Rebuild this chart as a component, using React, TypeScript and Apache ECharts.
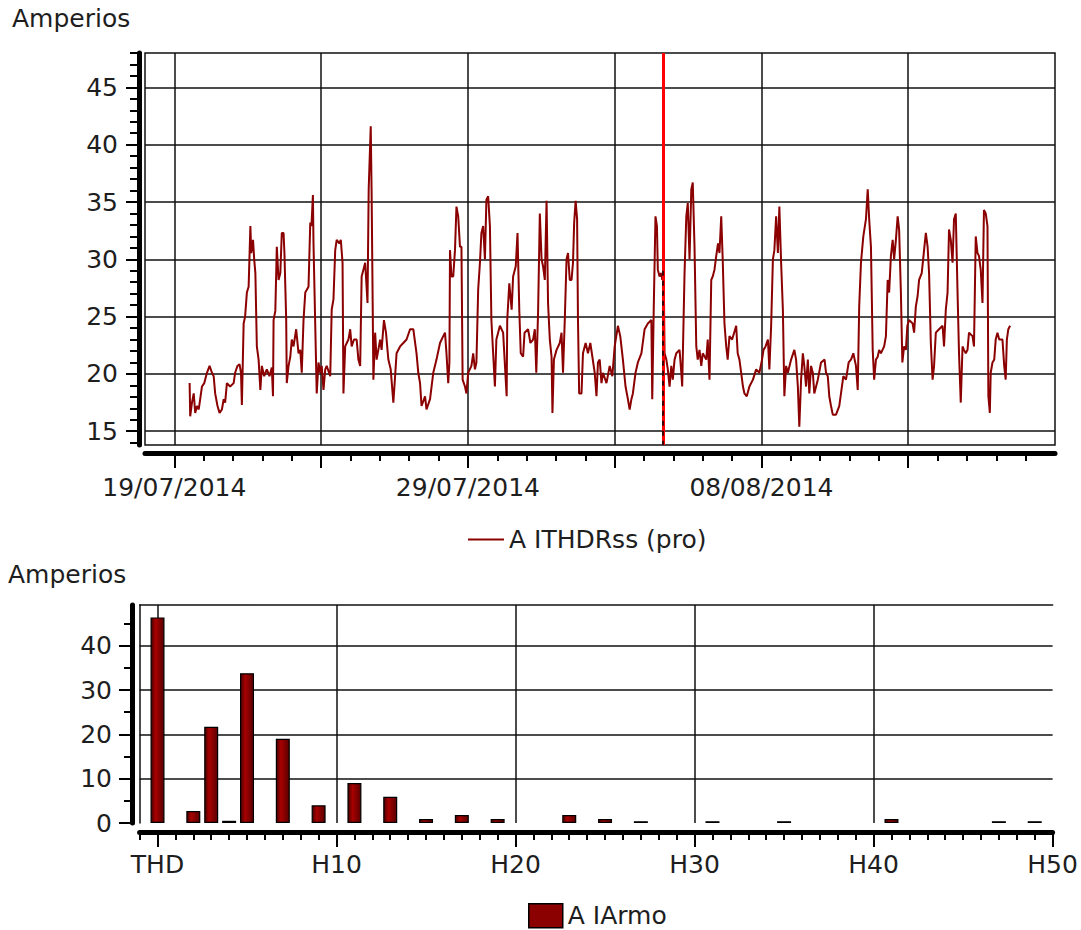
import React, { useEffect, useRef } from "react";
import * as echarts from "echarts";

const FONT = "'DejaVu Sans', 'Noto Sans', sans-serif";
const TEXT_COLOR = "#1e1e1e";
const GRID_COLOR = "#111111";

// ---------- top chart: current over time ----------
const topSeriesName = "A ITHDRss (pro)";
// days since 19/07/2014 00:00
const sampleDays = [
  0.52, 0.54, 0.6, 0.66, 0.71, 0.77, 0.83, 0.88, 0.94, 1.02, 1.11, 1.2, 1.28, 1.34, 1.39, 1.47, 1.54, 1.62, 1.68, 1.73,
  1.79, 1.9, 2.02, 2.07, 2.15, 2.22, 2.27, 2.3, 2.36, 2.41, 2.47, 2.53, 2.59, 2.62, 2.68, 2.72, 2.76, 2.81, 2.87, 2.93,
  2.98, 3.06, 3.15, 3.24, 3.32, 3.36, 3.38, 3.44, 3.49, 3.55, 3.61, 3.66, 3.72, 3.75, 3.81, 3.83, 3.89, 3.95, 4.0, 4.06,
  4.15, 4.23, 4.29, 4.34, 4.4, 4.46, 4.57, 4.63, 4.67, 4.72, 4.74, 4.8, 4.85, 4.91, 4.97, 5.02, 5.08, 5.14, 5.19, 5.31,
  5.36, 5.42, 5.48, 5.53, 5.62, 5.67, 5.73, 5.76, 5.82, 5.93, 5.99, 6.04, 6.12, 6.21, 6.27, 6.33, 6.38, 6.44, 6.5, 6.58,
  6.62, 6.69, 6.72, 6.76, 6.78, 6.84, 6.89, 7.01, 7.06, 7.14, 7.21, 7.29, 7.37, 7.46, 7.52, 7.57, 7.69, 7.8, 7.91, 8.03,
  8.14, 8.25, 8.31, 8.37, 8.42, 8.54, 8.59, 8.71, 8.82, 8.93, 9.05, 9.16, 9.22, 9.27, 9.33, 9.37, 9.39, 9.44, 9.5, 9.56,
  9.61, 9.67, 9.73, 9.78, 9.82, 9.9, 9.95, 10.01, 10.12, 10.18, 10.24, 10.29, 10.35, 10.41, 10.46, 10.52, 10.58, 10.63, 10.69, 10.75,
  10.8, 10.86, 10.92, 10.97, 11.09, 11.2, 11.32, 11.34, 11.41, 11.49, 11.54, 11.63, 11.69, 11.75, 11.8, 11.88, 11.93, 12.05, 12.13, 12.22,
  12.28, 12.33, 12.39, 12.45, 12.51, 12.56, 12.62, 12.68, 12.73, 12.79, 12.85, 12.88, 12.93, 13.02, 13.13, 13.19, 13.24, 13.3, 13.36, 13.41,
  13.47, 13.53, 13.58, 13.62, 13.67, 13.72, 13.75, 13.79, 13.87, 13.92, 14.01, 14.09, 14.17, 14.24, 14.32, 14.38, 14.43, 14.49, 14.55, 14.6,
  14.72, 14.83, 14.92, 15.0, 15.11, 15.19, 15.28, 15.37, 15.45, 15.51, 15.57, 15.62, 15.71, 15.79,
  15.91, 16.02, 16.13, 16.25, 16.28, 16.33, 16.39, 16.44, 16.47, 16.53, 16.59, 16.62, 16.67, 16.7, 16.76, 16.81, 16.87, 16.93, 16.98, 17.04,
  17.1, 17.21, 17.27, 17.3, 17.38, 17.44, 17.49, 17.55, 17.61, 17.66, 17.72, 17.78, 17.83, 17.89, 17.95, 18.0, 18.12, 18.17, 18.23, 18.29,
  18.34, 18.4, 18.46, 18.52, 18.57, 18.63, 18.68, 18.74, 18.8, 18.85, 18.91, 19.0, 19.07, 19.14, 19.19, 19.25, 19.31, 19.37, 19.42, 19.5,
  19.59, 19.71, 19.82, 19.93, 20.02, 20.07, 20.14, 20.22, 20.27, 20.33, 20.39, 20.44, 20.5, 20.56, 20.61, 20.67, 20.73, 20.78, 20.84, 20.9,
  21.01, 21.12, 21.18, 21.24, 21.29, 21.35, 21.41, 21.46, 21.52, 21.58, 21.63, 21.69, 21.75, 21.8, 21.92, 22.03, 22.15, 22.2, 22.26, 22.31,
  22.37, 22.43, 22.54, 22.65, 22.71, 22.79, 22.88, 22.97, 23.05, 23.13, 23.22, 23.28,
  23.33, 23.39, 23.47, 23.56, 23.62, 23.67, 23.73, 23.79, 23.84, 23.9, 23.96, 24.01, 24.07, 24.18, 24.24, 24.3, 24.35, 24.41, 24.47, 24.52,
  24.58, 24.64, 24.69, 24.75, 24.8, 24.86, 24.92, 24.97, 25.03, 25.15, 25.2, 25.26, 25.32, 25.37, 25.46, 25.54, 25.6, 25.66, 25.71, 25.77,
  25.83, 25.88, 25.94, 26.05, 26.17, 26.22, 26.28, 26.34, 26.39, 26.45, 26.51, 26.56, 26.62, 26.68, 26.73, 26.79, 26.85, 26.9, 26.96, 27.02,
  27.07, 27.19, 27.24, 27.3, 27.36, 27.41, 27.47, 27.53, 27.58, 27.64, 27.7, 27.73, 27.78, 27.81, 27.87, 27.93, 27.98, 28.04, 28.1, 28.21,
  28.27, 28.32, 28.36, 28.41, 28.47,
];
const sampleAmps = [
  19.2, 16.3, 17.5, 18.3, 16.6, 17.2, 16.9, 17.8, 18.9, 19.2, 20.1, 20.7, 20.1, 19.8, 18.3, 17.2, 16.6, 16.9, 17.8, 17.5,
  19.2, 18.9, 19.2, 20.1, 20.7, 20.85, 20.1, 17.3, 24.4, 25.0, 27.1, 27.6, 32.9, 30.55, 31.7, 30.0, 28.8, 22.4, 21.25, 18.6,
  20.7, 19.8, 20.4, 19.8, 20.55, 18.05, 24.7, 25.5, 31.1, 28.2, 28.8, 32.3, 32.3, 30.55, 24.7, 19.2, 20.7, 21.5, 23.0, 22.4,
  23.9, 21.8, 22.1, 20.1, 24.7, 27.1, 27.6, 33.2, 32.9, 35.6, 31.4, 24.2, 18.3, 21.0, 20.1, 20.7, 18.6, 20.4, 20.7, 19.8,
  25.6, 26.5, 30.8, 31.7, 31.4, 31.7, 29.7, 18.3, 22.4, 23.0, 23.9, 22.4, 23.0, 23.0, 21.25, 20.7, 28.5, 29.1, 29.7, 26.2,
  36.1, 41.6, 35.8, 25.0, 19.5, 23.6, 21.25, 23.0, 22.1, 24.7, 23.6, 21.25, 20.4, 17.5, 19.8, 21.8, 22.4, 22.7, 23.0, 23.9,
  23.9, 21.8, 20.1, 19.2, 17.2, 18.05, 16.9, 17.8, 20.1, 21.25, 22.7, 23.3, 23.6, 21.8, 19.2, 21.0, 30.8, 28.5, 28.5, 30.8,
  34.6, 33.75, 31.1, 31.1, 19.5, 18.9, 18.3, 20.1, 20.7, 21.8, 20.4, 21.0, 27.35, 29.7, 32.3, 32.9, 30.0, 35.2, 35.5, 32.9,
  24.7, 21.8, 18.9, 23.0, 24.2, 23.6, 18.05, 24.7, 27.9, 25.6, 28.5, 29.4, 32.3, 25.6, 21.8, 21.5, 23.6, 23.9, 22.7, 23.0,
  23.9, 20.1, 25.3, 34.0, 30.0, 29.4, 28.2, 35.1, 26.2, 23.0, 21.5, 16.6, 21.25, 22.1, 22.7, 23.6, 20.1, 24.7, 30.0, 30.55,
  28.2, 28.2, 29.7, 33.2, 35.1, 33.5, 24.7, 18.3, 18.3, 21.8, 22.7, 21.8, 22.7, 21.5, 20.1, 18.05, 21.0, 21.25, 19.2, 20.1,
  19.2, 20.7, 19.8, 22.4, 24.2, 23.3, 21.25, 18.9, 17.8, 16.9, 17.8, 18.3, 20.1, 21.0,
  21.8, 23.9, 24.4, 24.7, 17.8, 25.6, 33.75, 32.9, 29.1, 28.5, 28.8, 28.2, 28.8, 21.8, 21.25, 20.4, 18.9, 20.7, 19.5, 21.25,
  21.8, 22.1, 20.1, 18.9, 28.8, 33.75, 34.9, 30.0, 36.1, 36.7, 31.1, 22.4, 21.25, 22.1, 20.7, 21.8, 21.25, 23.0, 19.5, 28.2,
  28.5, 29.1, 30.3, 31.4, 30.55, 33.75, 30.0, 24.4, 22.4, 21.25, 23.3, 23.0, 23.6, 24.2, 21.8, 21.25, 20.1, 18.9, 18.3, 18.05,
  18.9, 19.5, 20.4, 20.1, 21.25, 22.1, 22.4, 23.0, 20.4, 24.2, 30.0, 30.8, 33.75, 30.55, 34.6, 29.7, 25.6, 18.05, 20.7, 20.1,
  21.25, 22.1, 21.25, 18.9, 15.4, 19.5, 21.8, 20.7, 18.9, 21.25, 18.3, 20.7, 20.1, 18.3, 19.5, 21.0, 21.25, 20.1, 19.8, 18.05,
  17.2, 16.45, 16.45, 17.2, 18.3, 19.8, 19.5, 21.0, 21.25, 21.8, 20.7, 18.6,
  25.9, 29.7, 32.0, 33.5, 36.1, 33.5, 31.1, 22.1, 19.5, 21.25, 21.5, 22.1, 21.8, 22.4, 23.3, 28.2, 27.1, 30.3, 31.7, 30.0,
  31.7, 33.75, 32.6, 27.1, 21.0, 22.4, 22.1, 24.2, 24.7, 24.4, 23.6, 25.9, 26.8, 28.2, 28.8, 30.8, 32.3, 31.1, 28.8, 22.7,
  19.5, 20.7, 23.6, 23.9, 24.2, 22.4, 25.6, 27.1, 32.6, 31.7, 29.7, 33.5, 34.0, 27.1, 21.8, 17.5, 22.4, 22.1, 21.8, 22.1,
  23.6, 23.3, 22.4, 32.0, 30.55, 30.3, 29.1, 26.2, 34.3, 34.0, 32.9, 18.05, 16.6, 20.1, 21.0, 21.25, 23.0, 23.6, 23.0, 23.0,
  20.7, 19.5, 23.0, 23.9, 24.2,
];
const dateTickDays = [0, 10, 20];
const dateTickLabels = ["19/07/2014", "29/07/2014", "08/08/2014"];
const cursorDay = 16.64;
const topValueTicks = [15, 20, 25, 30, 35, 40, 45];

// ---------- bottom chart: harmonic spectrum ----------
const bottomSeriesName = "A IArmo";
// 0 = THD, n = harmonic order Hn
const harmonicOrders = [0, 2, 3, 4, 5, 7, 9, 11, 13, 15, 17, 19, 23, 25, 27, 31, 35, 41, 47, 49];
const harmonicAmps = [46.4, 2.7, 21.7, 0.5, 33.8, 19.0, 4.0, 9.0, 5.9, 0.9, 1.8, 0.9, 1.8, 0.9, 0.4, 0.4, 0.4, 0.9, 0.4, 0.4];
const harmonicTickOrders = [0, 10, 20, 30, 40, 50];
const harmonicTickLabels = ["THD", "H10", "H20", "H30", "H40", "H50"];
const bottomValueTicks = [0, 10, 20, 30, 40];

function range(a: number, b: number, step: number): number[] {
  const out: number[] = [];
  for (let v = a; v <= b + 1e-9; v += step) out.push(Math.round(v * 1000) / 1000);
  return out;
}

const textStyle = { fontFamily: FONT, fontSize: 25, color: TEXT_COLOR };

export default function App() {
  const ref = useRef<HTMLDivElement>(null);

  useEffect(() => {
    if (!ref.current) return;
    const chart = echarts.init(ref.current, undefined, { renderer: "svg" });

    const lineData = sampleDays.map((d, i) => [d, sampleAmps[i]]);
    const barData = harmonicOrders.map((h, i) => [h, harmonicAmps[i]]);

    const hidden = { show: false };

    const option: any = {
      animation: false,
      backgroundColor: "#ffffff",
      title: [
        { text: "Amperios", left: 12, top: 6, padding: 0, textStyle: { ...textStyle, fontWeight: "normal" } },
        { text: "Amperios", left: 8, top: 562, padding: 0, textStyle: { ...textStyle, fontWeight: "normal" } },
      ],
      legend: [
        {
          data: [topSeriesName],
          left: 468,
          top: 527,
          padding: 0,
          icon: "rect",
          itemWidth: 36,
          itemHeight: 2,
          itemGap: 6,
          textStyle: { ...textStyle },
        },
        {
          data: [bottomSeriesName],
          left: 528,
          top: 903,
          padding: 0,
          icon: "rect",
          itemWidth: 34,
          itemHeight: 24,
          textStyle: { ...textStyle },
          itemStyle: { color: "#8b0000", borderColor: "#000", borderWidth: 1.5 },
        },
      ],
      grid: [
        { left: 145, top: 53, width: 910, height: 392, show: true, borderColor: GRID_COLOR, borderWidth: 1.5, backgroundColor: "transparent" },
        { left: 139.6, top: 605, width: 913, height: 218, show: false },
      ],
      xAxis: [
        {
          gridIndex: 0, type: "value", position: "bottom", min: -1, max: 30, offset: 8,
          axisLine: { show: true, onZero: false, lineStyle: { color: "#000", width: 5 } },
          axisTick: { show: true, customValues: range(1, 29, 1), length: 8, lineStyle: { color: "#000", width: 2 } },
          axisLabel: hidden, splitLine: hidden,
        },
        {
          gridIndex: 0, type: "value", position: "bottom", min: -1, max: 30, offset: 8,
          axisLine: { show: false, onZero: false },
          axisTick: { show: true, customValues: range(0, 25, 5), length: 15, lineStyle: { color: "#000", width: 2 } },
          axisLabel: {
            show: true, customValues: dateTickDays, margin: 22, ...textStyle,
            formatter: (v: number) => {
              const i = dateTickDays.indexOf(Math.round(v));
              return i >= 0 && Math.abs(v - dateTickDays[i]) < 1e-6 ? dateTickLabels[i] : "";
            },
          },
          splitLine: { show: true, showMinLine: true, showMaxLine: true, lineStyle: { color: GRID_COLOR, width: 1.5 } },
        },
        {
          gridIndex: 1, type: "value", position: "bottom", min: -1, max: 50, offset: 9,
          axisLine: { show: true, onZero: false, lineStyle: { color: "#000", width: 5 } },
          axisTick: { show: true, customValues: range(-1, 50, 1), length: 8, lineStyle: { color: "#000", width: 2 } },
          axisLabel: hidden, splitLine: hidden,
        },
        {
          gridIndex: 1, type: "value", position: "bottom", min: -1, max: 50, offset: 9,
          axisLine: { show: false, onZero: false },
          axisTick: { show: true, customValues: harmonicTickOrders, length: 15, lineStyle: { color: "#000", width: 2 } },
          axisLabel: {
            show: true, customValues: harmonicTickOrders, margin: 20, ...textStyle,
            formatter: (v: number) => {
              const i = harmonicTickOrders.indexOf(Math.round(v));
              return i >= 0 && Math.abs(v - harmonicTickOrders[i]) < 1e-6 ? harmonicTickLabels[i] : "";
            },
          },
          splitLine: { show: true, showMinLine: true, showMaxLine: false, lineStyle: { color: GRID_COLOR, width: 1.5 } },
        },
        {
          gridIndex: 1, type: "value", position: "top", min: -1, max: 50, offset: 0,
          axisLine: { show: true, onZero: false, lineStyle: { color: GRID_COLOR, width: 1.5 } },
          axisTick: hidden, axisLabel: hidden, splitLine: hidden,
        },
      ],
      yAxis: [
        {
          gridIndex: 0, type: "value", position: "left", min: 13.8, max: 48, offset: 6,
          axisLine: { show: true, onZero: false, lineStyle: { color: "#000", width: 5 } },
          axisTick: { show: true, customValues: range(14, 48, 1), length: 9, lineStyle: { color: "#000", width: 2 } },
          axisLabel: hidden, splitLine: hidden,
        },
        {
          gridIndex: 0, type: "value", position: "left", min: 13.8, max: 48, offset: 6,
          axisLine: { show: false, onZero: false },
          axisTick: { show: true, customValues: topValueTicks, length: 13, lineStyle: { color: "#000", width: 2 } },
          axisLabel: {
            show: true, customValues: topValueTicks, margin: 21, ...textStyle,
            formatter: (v: number) => (Math.abs(v % 5) < 1e-6 ? String(v) : ""),
          },
          splitLine: { show: true, showMinLine: true, showMaxLine: true, lineStyle: { color: GRID_COLOR, width: 1.5 } },
        },
        {
          gridIndex: 1, type: "value", position: "left", min: 0, max: 49.2, offset: 7.6,
          axisLine: { show: true, onZero: false, lineStyle: { color: "#000", width: 5 } },
          axisTick: { show: true, customValues: range(0, 45, 5), length: 8, lineStyle: { color: "#000", width: 2 } },
          axisLabel: hidden, splitLine: hidden,
        },
        {
          gridIndex: 1, type: "value", position: "left", min: 0, max: 49.2, offset: 7.6,
          axisLine: { show: false, onZero: false },
          axisTick: { show: true, customValues: bottomValueTicks, length: 13, lineStyle: { color: "#000", width: 2 } },
          axisLabel: {
            show: true, customValues: bottomValueTicks, margin: 20, ...textStyle,
            formatter: (v: number) => (Math.abs(v % 10) < 1e-6 ? String(v) : ""),
          },
          splitLine: { show: true, showMinLine: false, showMaxLine: true, lineStyle: { color: GRID_COLOR, width: 1.5 } },
        },
        {
          gridIndex: 1, type: "value", position: "left", min: 0, max: 49.2, offset: 0,
          axisLine: { show: true, onZero: false, lineStyle: { color: GRID_COLOR, width: 1.5 } },
          axisTick: hidden, axisLabel: hidden, splitLine: hidden,
        },
      ],
      series: [
        {
          name: topSeriesName,
          type: "line",
          xAxisIndex: 0,
          yAxisIndex: 0,
          data: lineData,
          showSymbol: false,
          symbol: "none",
          color: "#8b0000",
          lineStyle: { color: "#8b0000", width: 2 },
          z: 3,
          markLine: {
            silent: true,
            symbol: "none",
            label: { show: false },
            z: 5,
            data: [
              { xAxis: cursorDay, lineStyle: { color: "#ff0000", width: 3, type: "solid" } },
              [
                { coord: [cursorDay, 29], lineStyle: { color: "#000", width: 1.5, type: [5, 5] } },
                { coord: [cursorDay, 13.8] },
              ],
            ],
          },
        },
        {
          name: bottomSeriesName,
          type: "bar",
          xAxisIndex: 2,
          yAxisIndex: 2,
          data: barData,
          barWidth: 14,
          color: "#8b0000",
          itemStyle: {
            color: new echarts.graphic.LinearGradient(0, 0, 1, 0, [
              { offset: 0, color: "#4a0000" },
              { offset: 0.35, color: "#a80000" },
              { offset: 1, color: "#5a0000" },
            ]),
            borderColor: "#000",
            borderWidth: 1.2,
          },
          z: 3,
        },
      ],
    };

    chart.setOption(option);
    return () => chart.dispose();
  }, []);

  return (
    <div
      ref={ref}
      style={{ position: "absolute", left: 0, top: 0, width: 1081, height: 930, background: "#fff" }}
    />
  );
}
